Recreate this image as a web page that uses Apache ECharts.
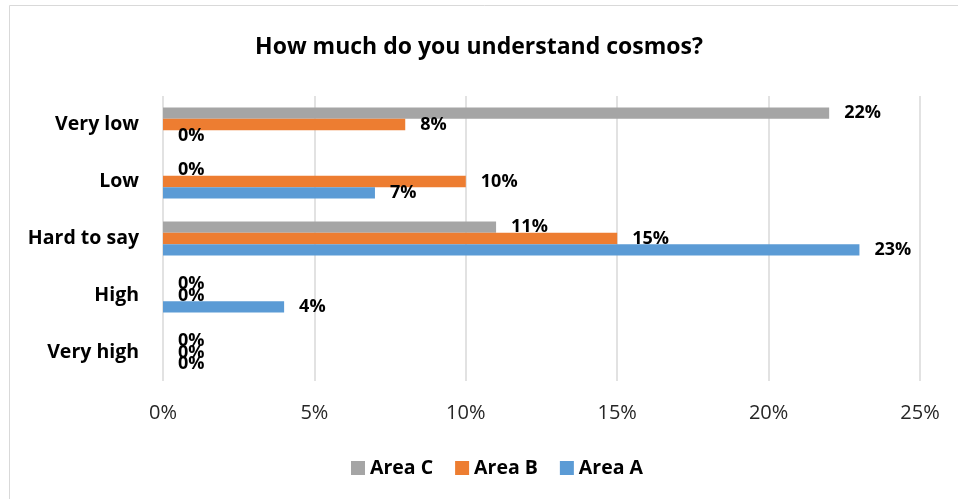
<!DOCTYPE html>
<html>
<head>
<meta charset="utf-8">
<script src="https://cdn.jsdelivr.net/npm/echarts@6/dist/echarts.min.js"></script>
<style>
  html, body { margin: 0; padding: 0; background: #fff; }
  #chart { width: 958px; height: 499px; }
</style>
</head>
<body>
<div id="chart"></div>
<script>
// Answer categories, listed bottom to top along the vertical axis
const categories = ['Very high', 'High', 'Hard to say', 'Low', 'Very low'];

// Share of respondents (%) per area, same order as categories
const areaA = [0, 4, 23, 7, 0];
const areaB = [0, 0, 15, 10, 8];
const areaC = [0, 0, 11, 0, 22];

// Horizontal axis ticks (%)
const xTicks = [0, 5, 10, 15, 20, 25];

const FONT = '"Open Sans", "Noto Sans", sans-serif';

const chart = echarts.init(document.getElementById('chart'), null, { renderer: 'canvas' });

function barSeries(name, values, color) {
  return {
    name: name,
    type: 'bar',
    data: values,
    barGap: '0%',
    barCategoryGap: '40%',
    itemStyle: { color: color },
    label: {
      show: true,
      position: 'right',
      distance: 15,
      formatter: p => p.value + '%',
      fontFamily: FONT,
      fontWeight: 'bold',
      fontSize: 18,
      color: '#000'
    },
    emphasis: { disabled: true }
  };
}

chart.setOption({
  animation: false,
  backgroundColor: '#fff',
  graphic: [{
    type: 'rect',
    shape: { x: 9.5, y: 5.5, width: 960, height: 500 },
    style: { fill: 'none', stroke: '#d9d9d9', lineWidth: 1 },
    silent: true
  }],
  title: {
    text: 'How much do you understand cosmos?',
    left: 'center',
    top: 31,
    textStyle: { fontFamily: FONT, fontWeight: 'bold', fontSize: 23, color: '#000' }
  },
  legend: {
    data: ['Area C', 'Area B', 'Area A'],
    top: 453,
    left: 346,
    itemWidth: 14,
    itemHeight: 14,
    itemGap: 22,
    icon: 'rect',
    textStyle: { fontFamily: FONT, fontWeight: 'bold', fontSize: 19.5, color: '#000', padding: [0, 0, 0, 0] }
  },
  grid: { left: 163, right: 38, top: 96, bottom: 118, containLabel: false },
  xAxis: {
    type: 'value',
    min: xTicks[0],
    max: xTicks[xTicks.length - 1],
    interval: xTicks[1] - xTicks[0],
    axisLine: { show: false },
    axisTick: { show: false },
    splitLine: { show: true, lineStyle: { color: '#d9d9d9', width: 1.5 } },
    axisLabel: {
      formatter: v => v + '%',
      margin: 22,
      fontFamily: FONT,
      fontSize: 20,
      color: '#262626'
    }
  },
  yAxis: {
    type: 'category',
    data: categories,
    axisLine: { show: false },
    axisTick: { show: false },
    axisLabel: {
      margin: 24,
      fontFamily: FONT,
      fontWeight: 'bold',
      fontSize: 19.5,
      color: '#000'
    }
  },
  series: [
    barSeries('Area C', areaC, '#a5a5a5'),
    barSeries('Area B', areaB, '#ed7d31'),
    barSeries('Area A', areaA, '#5b9bd5')
  ]
});
</script>
</body>
</html>
